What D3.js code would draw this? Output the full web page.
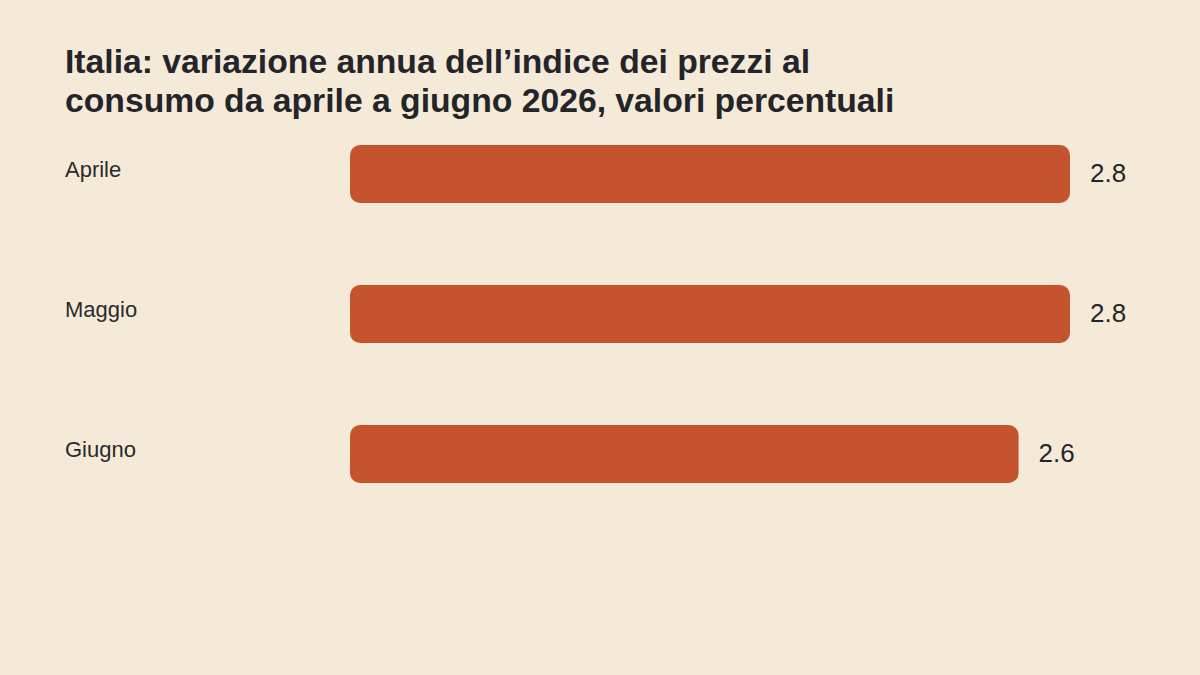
<!DOCTYPE html>
<html>
<head>
<meta charset="utf-8">
<script src="https://cdn.jsdelivr.net/npm/d3@7"></script>
<style>
  html, body { margin: 0; padding: 0; background: #f5ead8; }
  svg { display: block; font-family: "Liberation Sans", Arial, sans-serif; }
</style>
</head>
<body>
<div id="content"></div>
<script>
var titleLines = [
	"Italia: variazione annua dell\u2019indice dei prezzi al",
	"consumo da aprile a giugno 2026, valori percentuali"
];
var months = ["Aprile", "Maggio", "Giugno"];
var values = [2.8, 2.8, 2.6];

var width = 1200;
var height = 675;

var svg = d3.select("#content").append("svg")
	.attr("width", width).attr("height", height);

svg.append("rect").attr("width", width).attr("height", height).style("fill", "#f5ead8");

// title
svg.append("g").selectAll("text")
	.data(titleLines)
	.enter()
	.append("text")
	.attr("x", 65)
	.attr("y", function (d, i) { return 73 + i * 39; })
	.style("font-size", "33.7px")
	.style("font-weight", "bold")
	.style("fill", "#23252a")
	.text(function (d) { return d; });

var x = d3.scaleLinear().domain([0, 2.8]).range([350, 1070]);
var y = d3.scaleBand().domain(months).range([145, 483]).paddingInner(82 / 140).paddingOuter(0);

var rows = svg.append("g").selectAll("g.row")
	.data(months)
	.enter()
	.append("g")
	.attr("class", "row");

rows.append("text")
	.attr("x", 65)
	.attr("y", function (d) { return y(d) + 32; })
	.style("font-size", "22px")
	.style("fill", "#2a2a2a")
	.text(function (d) { return d; });

rows.append("rect")
	.attr("x", x(0))
	.attr("y", function (d) { return y(d); })
	.attr("width", function (d, i) { return x(values[i]) - x(0); })
	.attr("height", y.bandwidth())
	.attr("rx", 10).attr("ry", 10)
	.style("fill", "#c4532e");

rows.append("text")
	.attr("x", function (d, i) { return x(values[i]) + 20; })
	.attr("y", function (d) { return y(d) + 37; })
	.style("font-size", "26px")
	.style("fill", "#23252a")
	.text(function (d, i) { return values[i].toFixed(1); });
</script>
</body>
</html>
